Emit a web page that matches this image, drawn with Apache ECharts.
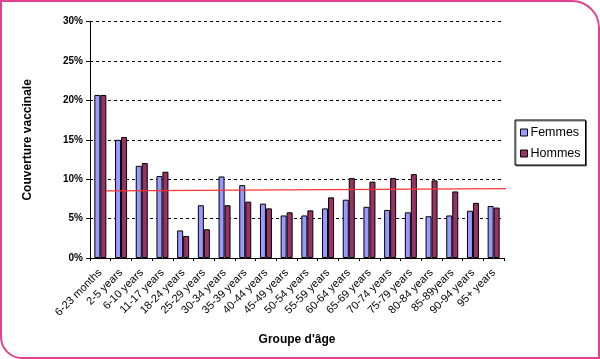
<!DOCTYPE html>
<html><head><meta charset="utf-8">
<script src="https://cdn.jsdelivr.net/npm/echarts@6/dist/echarts.min.js"></script>
<style>
html,body{margin:0;padding:0;background:#fff;}
#frame{position:absolute;left:0;top:0;width:596px;height:355px;border:2px solid #e2418e;border-radius:0 28px 0 22px;}
#c{position:absolute;left:0;top:0;width:600px;height:359px;}
</style></head>
<body>
<div id="frame"></div>
<div id="c"></div>
<script>
const categories = ['6-23 months','2-5 years','6-10 years','11-17 years','18-24 years','25-29 years','30-34 years','35-39 years','40-44 years','45-49 years','50-54 years','55-59 years','60-64 years','65-69 years','70-74 years','75-79 years','80-84 years','85-89years','90-94 years','95+ years'];
const femmes = [20.7,15.0,11.7,10.4,3.5,6.7,10.35,9.25,6.9,5.4,5.4,6.3,7.4,6.5,6.1,5.8,5.3,5.4,6.0,6.6];
const hommes = [20.7,15.35,12.05,10.95,2.8,3.65,6.7,7.15,6.3,5.8,6.05,7.7,10.15,9.7,10.15,10.65,9.85,8.45,7.0,6.4];
const trendX = [0.77, 20.4];
const trendY = [8.52, 8.8];
const yTicks = [0,5,10,15,20,25,30];

const chart = echarts.init(document.getElementById('c'));
const F = 'Liberation Sans, Arial, sans-serif';
chart.setOption({
  animation:false,
  textStyle:{fontFamily:F},
  grid:{left:90,right:96,top:21.7,bottom:101,containLabel:false},
  legend:{
    orient:'vertical', left:515, top:120, width:68,
    data:['Femmes','Hommes'],
    icon:'rect', itemWidth:7, itemHeight:7, itemGap:8,
    borderColor:'#000', borderWidth:1, padding:[6,5,5,5],
    shadowColor:'rgba(0,0,0,0.5)', shadowOffsetX:1, shadowOffsetY:1,
    backgroundColor:'#fff',
    textStyle:{fontFamily:F,fontSize:12.5,color:'#000',padding:[0,0,0,-2]},
    itemStyle:{borderColor:'#000',borderWidth:1}
  },
  xAxis:[{
    type:'category', data:categories,
    axisLine:{lineStyle:{color:'#000',width:1}},
    axisTick:{show:true,length:3,lineStyle:{color:'#000'}},
    axisLabel:{rotate:45,interval:0,fontSize:11,color:'#000',fontFamily:F,margin:13},
    name:"Groupe d'âge", nameLocation:'middle', nameGap:76,
    nameTextStyle:{fontWeight:'bold',fontSize:12,color:'#000',fontFamily:F}
  },{
    type:'value', min:0, max:20, show:false
  }],
  yAxis:{
    type:'value', min:0, max:30, interval:5,
    axisLine:{show:true,lineStyle:{color:'#000'}},
    axisTick:{show:true,length:4,lineStyle:{color:'#000'}},
    axisLabel:{formatter:'{value}%',fontSize:10,fontWeight:'bold',color:'#000',fontFamily:F,margin:7},
    splitLine:{show:true,lineStyle:{color:'#000',type:[3,3],width:1}},
    name:'Couverture vaccinale', nameLocation:'middle', nameGap:56,
    nameTextStyle:{fontWeight:'bold',fontSize:12,color:'#000',fontFamily:F}
  },
  series:[
    {name:'Femmes',type:'bar',data:femmes,barGap:'0%',barCategoryGap:'42%',
     itemStyle:{color:'#9999ff',borderColor:'#000',borderWidth:1}},
    {name:'Hommes',type:'bar',data:hommes,
     itemStyle:{color:'#993366',borderColor:'#000',borderWidth:1}},
    {name:'trend',type:'line',xAxisIndex:1,clip:false,symbol:'none',silent:true,
     data:[[trendX[0],trendY[0]],[trendX[1],trendY[1]]],
     lineStyle:{color:'#ff3333',width:1.3},z:5}
  ]
});
</script>
</body></html>
